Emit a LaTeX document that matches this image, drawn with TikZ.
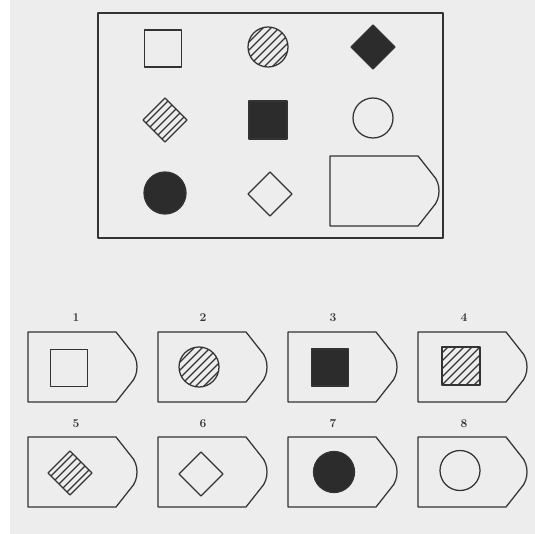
\documentclass[tikz,border=0pt]{standalone}
\usetikzlibrary{calc}
\definecolor{bgc}{HTML}{EDEDED}
\definecolor{linec}{HTML}{333333}
\definecolor{darkf}{HTML}{2C2C2C}
\tikzset{
  ln/.style={draw=linec, line width=1.25pt, line join=round},
  hl/.style={draw=linec, line width=1.3pt},
  blk/.style={ln, fill=darkf},
  lbl/.style={font=\fontsize{12}{14}\selectfont\bfseries, text=linec, inner sep=0pt}
}
\newcommand\optbox[2]{%
  \draw[ln] (#1,#2) -- ({#1+88},#2) -- ({#1+103},{#2+19})
    .. controls ({#1+111},{#2+27}) and ({#1+111},{#2+43}) .. ({#1+103},{#2+51})
    -- ({#1+88},{#2+70}) -- (#1,{#2+70}) -- cycle;}
% hatch: center x, center y, clip path
\newcommand\hatchset[3]{%
  \begin{scope}
    \clip #3;
    \foreach \k in {-6,...,6}
      \draw[hl] ({#1+\k*8-40},{#2+40}) -- ({#1+\k*8+40},{#2-40});
  \end{scope}}
\newcommand\sqpath[3]{({#1-#3},{#2-#3}) rectangle ({#1+#3},{#2+#3})}
\newcommand\dmpath[3]{({#1-#3},#2) -- (#1,{#2-#3}) -- ({#1+#3},#2) -- (#1,{#2+#3}) -- cycle}
\begin{document}
\begin{tikzpicture}[x=1pt,y=-1pt]
\useasboundingbox (0,0) rectangle (535,534);
\fill[bgc] (10,0) rectangle (535,534);
\fill[white] (0,0) rectangle (10,534);

% top panel
\draw[ln] (98,13) rectangle (443,238);
% row 1
\draw[ln] \sqpath{163}{48.5}{18.5};
\hatchset{268}{47}{(268,47) circle (20)}
\draw[ln] (268,47) circle (20);
\draw[blk] \dmpath{373}{47}{22};
% row 2
\hatchset{165}{120}{\dmpath{165}{120}{22}}
\draw[ln] \dmpath{165}{120}{22};
\draw[blk] \sqpath{268}{120}{19};
\draw[ln] (373,118) circle (20);
% row 3
\draw[blk] (165,193) circle (21);
\draw[ln] \dmpath{270}{194}{22};
\optbox{330}{156}

% answers
\node[lbl] (l1) at (76,318) {1};
\node[lbl] (l2) at (203,318) {2};
\node[lbl] (l3) at (333,318) {3};
\node[lbl] (l4) at (464,318) {4};
\node[lbl] (l5) at (76,424) {5};
\node[lbl] (l6) at (203,424) {6};
\node[lbl] (l7) at (333,424) {7};
\node[lbl] (l8) at (464,424) {8};

\optbox{28}{332}
\optbox{158}{332}
\optbox{288}{332}
\optbox{418}{332}
\optbox{28}{437}
\optbox{158}{437}
\optbox{288}{437}
\optbox{418}{437}

% 1: open square
\draw[ln] \sqpath{69}{368}{18.5};
% 2: hatched circle
\hatchset{199}{367}{(199,367) circle (20)}
\draw[ln] (199,367) circle (20);
% 3: black square
\draw[blk] \sqpath{330}{367.5}{18.5};
% 4: hatched square
\hatchset{461}{366}{\sqpath{461}{366}{19}}
\draw[ln] \sqpath{461}{366}{19};
% 5: hatched diamond
\hatchset{70}{473}{\dmpath{70}{473}{22}}
\draw[ln] \dmpath{70}{473}{22};
% 6: open diamond
\draw[ln] \dmpath{201}{474}{22};
% 7: black circle
\draw[blk] (334,472) circle (20.5);
% 8: open circle
\draw[ln] (460,470.5) circle (20);
\end{tikzpicture}
\end{document}
